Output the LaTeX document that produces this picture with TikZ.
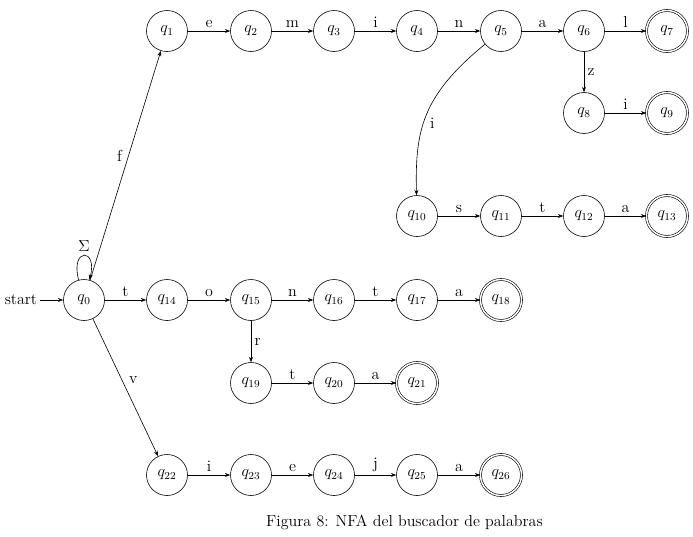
\documentclass[tikz,border=0pt]{standalone}
\usetikzlibrary{arrows.meta}

\begin{document}
\begin{tikzpicture}[x=0.75pt,y=0.75pt,
  >={Stealth[length=4pt,width=3pt]},
  big/.style={font=\fontsize{12}{14}\selectfont},
  st/.style={circle,draw,line width=0.45pt,minimum size=30.75pt,inner sep=0pt,big},
  acc/.style={st,double,double distance=1.1pt},
  edge/.style={->,line width=0.45pt},
  lbl/.style={auto,big,inner sep=2.5pt}
]
\useasboundingbox (0,0) rectangle (693,-536);

% states
\node[st]  (q0)  at (84,-300)  {$q_0$};
\node[st]  (q1)  at (167,-31)  {$q_1$};
\node[st]  (q2)  at (251,-31)  {$q_2$};
\node[st]  (q3)  at (334,-31)  {$q_3$};
\node[st]  (q4)  at (417,-31)  {$q_4$};
\node[st]  (q5)  at (501,-31)  {$q_5$};
\node[st]  (q6)  at (584,-31)  {$q_6$};
\node[acc] (q7)  at (667,-31)  {$q_7$};
\node[st]  (q8)  at (584,-113) {$q_8$};
\node[acc] (q9)  at (667,-113) {$q_9$};
\node[st]  (q10) at (417,-216) {$q_{10}$};
\node[st]  (q11) at (501,-216) {$q_{11}$};
\node[st]  (q12) at (584,-216) {$q_{12}$};
\node[acc] (q13) at (667,-216) {$q_{13}$};
\node[st]  (q14) at (167,-300) {$q_{14}$};
\node[st]  (q15) at (251,-300) {$q_{15}$};
\node[st]  (q16) at (334,-300) {$q_{16}$};
\node[st]  (q17) at (417,-300) {$q_{17}$};
\node[acc] (q18) at (501,-300) {$q_{18}$};
\node[st]  (q19) at (251,-383) {$q_{19}$};
\node[st]  (q20) at (334,-383) {$q_{20}$};
\node[acc] (q21) at (417,-383) {$q_{21}$};
\node[st]  (q22) at (167,-475) {$q_{22}$};
\node[st]  (q23) at (251,-475) {$q_{23}$};
\node[st]  (q24) at (334,-475) {$q_{24}$};
\node[st]  (q25) at (417,-475) {$q_{25}$};
\node[acc] (q26) at (501,-475) {$q_{26}$};

% start
\node[big,anchor=east,inner sep=2pt] (start) at (40,-300) {start};
\draw[edge] (start) -- (q0);

% transitions
\draw[edge] (q0) edge[loop above,looseness=8,min distance=14pt] node[lbl] {$\Sigma$} (q0);
\draw[edge] (q0) -- node[lbl] {f} (q1);
\draw[edge] (q0) -- node[lbl] {t} (q14);
\draw[edge] (q0) -- node[lbl] {v} (q22);

\draw[edge] (q1) -- node[lbl] {e} (q2);
\draw[edge] (q2) -- node[lbl] {m} (q3);
\draw[edge] (q3) -- node[lbl] {i} (q4);
\draw[edge] (q4) -- node[lbl] {n} (q5);
\draw[edge] (q5) -- node[lbl] {a} (q6);
\draw[edge] (q6) -- node[lbl] {l} (q7);
\draw[edge] (q6) -- node[lbl] {z} (q8);
\draw[edge] (q8) -- node[lbl] {i} (q9);
\draw[edge] (q5) .. controls (422,-96) and (415,-130) .. node[lbl] {i} (q10);
\draw[edge] (q10) -- node[lbl] {s} (q11);
\draw[edge] (q11) -- node[lbl] {t} (q12);
\draw[edge] (q12) -- node[lbl] {a} (q13);

\draw[edge] (q14) -- node[lbl] {o} (q15);
\draw[edge] (q15) -- node[lbl] {n} (q16);
\draw[edge] (q16) -- node[lbl] {t} (q17);
\draw[edge] (q17) -- node[lbl] {a} (q18);
\draw[edge] (q15) -- node[lbl] {r} (q19);
\draw[edge] (q19) -- node[lbl] {t} (q20);
\draw[edge] (q20) -- node[lbl] {a} (q21);

\draw[edge] (q22) -- node[lbl] {i} (q23);
\draw[edge] (q23) -- node[lbl] {e} (q24);
\draw[edge] (q24) -- node[lbl] {j} (q25);
\draw[edge] (q25) -- node[lbl] {a} (q26);

% caption
\node[big,anchor=base,inner sep=0pt] (cap) at (404.5,-526) {Figura 8: NFA del buscador de palabras};
\end{tikzpicture}
\end{document}
